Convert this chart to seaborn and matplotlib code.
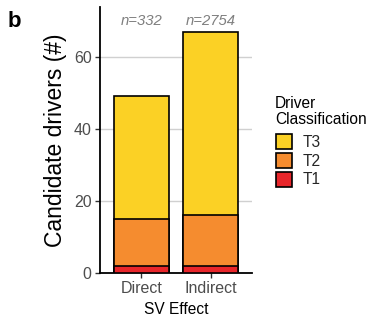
import matplotlib
matplotlib.use("Agg")
import matplotlib.pyplot as plt
import seaborn as sns
import pandas as pd
import numpy as np
from matplotlib.patches import Patch

effects = ["Direct", "Indirect"]
t1 = [2, 2]
t2 = [13, 14]
t3 = [34, 51]
n_labels = ["n=332", "n=2754"]
classes = ["T3", "T2", "T1"]
colors = {"T3": "#FBD125", "T2": "#F58C2F", "T1": "#E8262B"}

sns.set_theme(style="white")
plt.rcParams["font.family"] = ["Liberation Sans", "DejaVu Sans"]

fig = plt.figure(figsize=(3.71, 3.2), dpi=100)
ax = fig.add_axes([0.2695, 0.147, 0.41, 0.831])

c1 = np.array(t1)
c2 = c1 + np.array(t2)
c3 = c2 + np.array(t3)
layers = [("T3", c3), ("T2", c2), ("T1", c1)]
for name, vals in layers:
    df = pd.DataFrame({"effect": effects, "value": vals})
    sns.barplot(data=df, x="effect", y="value", color=colors[name], width=0.8,
                edgecolor="black", linewidth=1.2, saturation=1, ax=ax, zorder=3)

for i, lab in enumerate(n_labels):
    ax.text(i, 68.8, lab, ha="center", va="baseline", fontsize=10.7, style="italic", color="#7f7f7f")

ax.set_xlim(-0.6, 1.6)
ax.set_ylim(0, 73.8)
ax.set_yticks([0, 20, 40, 60])
ax.yaxis.grid(True, color="#d0d0d0", linewidth=1, zorder=0)
ax.set_axisbelow(True)
for s in ["top", "right"]:
    ax.spines[s].set_visible(False)
for s in ["left", "bottom"]:
    ax.spines[s].set_color("black")
    ax.spines[s].set_linewidth(1.3)
ax.tick_params(axis="both", which="major", length=3.5, width=1, color="#333333",
               labelcolor="#4d4d4d", labelsize=11.5, bottom=True, left=True, pad=2.5)
ax.set_xlabel("SV Effect", fontsize=11.2, color="black", labelpad=4)
ax.set_ylabel("Candidate drivers (#)", fontsize=16.5, color="black", labelpad=5)

fig.text(0.741, 0.701, "Driver\nClassification", ha="left", va="top",
         fontsize=11.2, color="black", linespacing=1.1)
handles = [Patch(facecolor=colors[c], edgecolor="black", linewidth=1.2, label=c) for c in classes]
leg = fig.legend(handles=handles, loc="upper left",
                 bbox_to_anchor=(0.744, 1 - 134 / 320), frameon=False, fontsize=11.2,
                 handlelength=1.05, handleheight=1.1,
                 handletextpad=0.65, labelspacing=0.2, borderaxespad=0, borderpad=0)

fig.text(0.02, 0.916, "b", fontsize=16, fontweight="bold", color="black")

fig.savefig("out.png", dpi=100)
